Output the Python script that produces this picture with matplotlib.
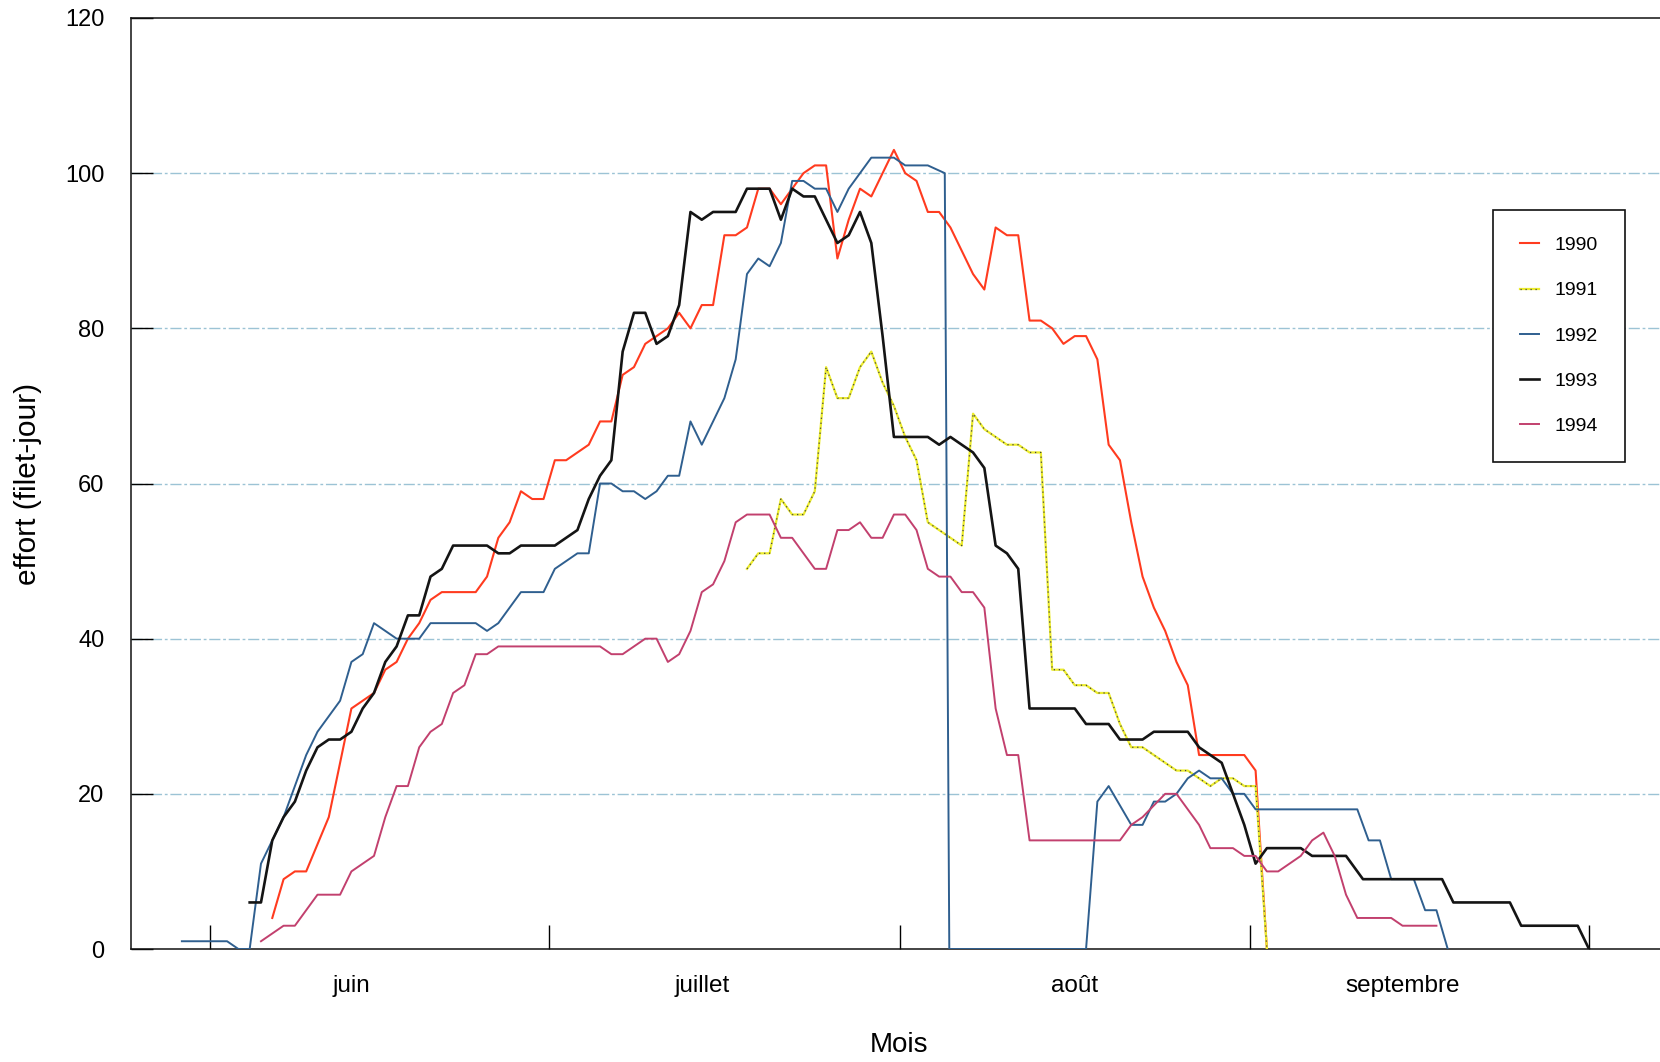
import matplotlib
matplotlib.use("Agg")
import matplotlib.pyplot as plt

plt.rcParams['font.family'] = ['Liberation Sans', 'DejaVu Sans']

# effort journalier (filet-jour) -- (jour depuis le 1er juin, valeur)
effort_1990 = [(6, 4), (7, 9), (8, 10), (9, 10), (11, 17), (13, 31), (14, 32), (15, 33), (16, 36),
               (17, 37), (18, 40), (19, 42), (20, 45), (21, 46), (24, 46), (25, 48), (26, 53),
               (27, 55), (28, 59), (29, 58), (30, 58), (31, 63), (32, 63), (33, 64), (34, 65),
               (35, 68), (36, 68), (37, 74), (38, 75), (39, 78), (40, 79), (41, 80), (42, 82),
               (43, 80), (44, 83), (45, 83), (46, 92), (47, 92), (48, 93), (49, 98), (50, 98),
               (51, 96), (52, 98), (53, 100), (54, 101), (55, 101), (56, 89), (57, 94), (58, 98),
               (59, 97), (60, 100), (61, 103), (62, 100), (63, 99), (64, 95), (65, 95), (66, 93),
               (67, 90), (68, 87), (69, 85), (70, 93), (71, 92), (72, 92), (73, 81), (74, 81),
               (75, 80), (76, 78), (77, 79), (78, 79), (79, 76), (80, 65), (81, 63), (82, 55),
               (83, 48), (84, 44), (85, 41), (86, 37), (87, 34), (88, 25), (92, 25), (93, 23),
               (94, 0)]

effort_1991 = [(48, 49), (49, 51), (50, 51), (51, 58), (52, 56), (53, 56), (54, 59), (55, 75),
               (56, 71), (57, 71), (58, 75), (59, 77), (60, 73), (61, 70), (62, 66), (63, 63),
               (64, 55), (65, 54), (66, 53), (67, 52), (68, 69), (69, 67), (70, 66), (71, 65),
               (72, 65), (73, 64), (74, 64), (75, 36), (76, 36), (77, 34), (78, 34), (79, 33),
               (80, 33), (81, 29), (82, 26), (83, 26), (84, 25), (85, 24), (86, 23), (87, 23),
               (88, 22), (89, 21), (90, 22), (91, 22), (92, 21), (93, 21), (94, 0)]

effort_1992 = [(-2, 1), (2, 1), (3, 0), (4, 0), (5, 11), (6, 14), (7, 17), (8, 21), (9, 25),
               (10, 28), (11, 30), (12, 32), (13, 37), (14, 38), (15, 42), (17, 40), (19, 40),
               (20, 42), (24, 42), (25, 41), (26, 42), (28, 46), (30, 46), (31, 49), (32, 50),
               (33, 51), (34, 51), (35, 60), (36, 60), (37, 59), (38, 59), (39, 58), (40, 59),
               (41, 61), (42, 61), (43, 68), (44, 65), (45, 68), (46, 71), (47, 76), (48, 87),
               (49, 89), (50, 88), (51, 91), (52, 99), (53, 99), (54, 98), (55, 98), (56, 95),
               (57, 98), (58, 100), (59, 102), (61, 102), (62, 101), (64, 101), (65.5, 100),
               (65.9, 0), (78, 0), (79, 19), (80, 21), (82, 16), (83, 16), (84, 19), (85, 19),
               (86, 20), (87, 22), (88, 23), (89, 22), (90, 22), (91, 20), (92, 20), (93, 18),
               (102, 18), (103, 14), (104, 14), (105, 9), (107, 9), (108, 5), (109, 5), (110, 0)]

effort_1993 = [(4, 6), (5, 6), (6, 14), (7, 17), (8, 19), (9, 23), (10, 26), (11, 27), (12, 27),
               (13, 28), (14, 31), (15, 33), (16, 37), (17, 39), (18, 43), (19, 43), (20, 48),
               (21, 49), (22, 52), (25, 52), (26, 51), (27, 51), (28, 52), (31, 52), (32, 53),
               (33, 54), (34, 58), (35, 61), (36, 63), (37, 77), (38, 82), (39, 82), (40, 78),
               (41, 79), (42, 83), (43, 95), (44, 94), (45, 95), (47, 95), (48, 98), (50, 98),
               (51, 94), (52, 98), (53, 97), (54, 97), (55, 94), (56, 91), (57, 92), (58, 95),
               (59, 91), (60, 79), (61, 66), (64, 66), (65, 65), (66, 66), (67, 65), (68, 64),
               (69, 62), (70, 52), (71, 51), (72, 49), (73, 31), (77, 31), (78, 29), (80, 29),
               (81, 27), (83, 27), (84, 28), (87, 28), (88, 26), (89, 25), (90, 24), (91, 20),
               (92, 16), (93, 11), (94, 13), (97, 13), (98, 12), (101, 12), (102.5, 9), (109.5, 9),
               (110.5, 6), (115.5, 6), (116.5, 3), (121.5, 3), (122.5, 0)]

effort_1994 = [(5, 1), (6, 2), (7, 3), (8, 3), (9, 5), (10, 7), (12, 7), (13, 10), (14, 11),
               (15, 12), (16, 17), (17, 21), (18, 21), (19, 26), (20, 28), (21, 29), (22, 33),
               (23, 34), (24, 38), (25, 38), (26, 39), (35, 39), (36, 38), (37, 38), (38, 39),
               (39, 40), (40, 40), (41, 37), (42, 38), (43, 41), (44, 46), (45, 47), (46, 50),
               (47, 55), (48, 56), (50, 56), (51, 53), (52, 53), (53, 51), (54, 49), (55, 49),
               (56, 54), (57, 54), (58, 55), (59, 53), (60, 53), (61, 56), (62, 56), (63, 54),
               (64, 49), (65, 48), (66, 48), (67, 46), (68, 46), (69, 44), (70, 31), (71, 25),
               (72, 25), (73, 14), (81, 14), (82, 16), (83, 17), (84, 18.5), (85, 20), (86, 20),
               (87, 18), (88, 16), (89, 13), (91, 13), (92, 12), (93, 12), (94, 10), (95, 10),
               (96, 11), (97, 12), (98, 14), (99, 15), (100, 12), (101, 7), (102, 4), (105, 4),
               (106, 3), (109, 3)]

month_bounds = [0.5, 30.5, 61.5, 92.5, 122.5]
month_pos = [13, 44, 77, 106]
month_names = ['juin', 'juillet', 'août', 'septembre']
y_ticks = [0, 20, 40, 60, 80, 100, 120]


def xy(pairs):
    return [p[0] for p in pairs], [p[1] for p in pairs]


fig = plt.figure(figsize=(16.6, 10.62), dpi=100)
ax = fig.add_axes([131 / 1660, 1 - 949 / 1062, 1536 / 1660, 931 / 1062])

# grille horizontale pointillee
for y in y_ticks[1:-1]:
    ax.axhline(y, color='#9cc3d5', lw=1.0, ls=(0, (8, 2, 2, 2)), zorder=1)

x, y = xy(effort_1990)
l90, = ax.plot(x, y, color='#ff3b1f', lw=1.5, zorder=3)
x, y = xy(effort_1991)
l91a, = ax.plot(x, y, color='#ecec2c', lw=1.6, zorder=3)
l91b, = ax.plot(x, y, color='#444444', lw=0.9, ls=(0, (1, 3)), zorder=3)
x, y = xy(effort_1992)
l92, = ax.plot(x, y, color='#2f5f8f', lw=1.4, zorder=3)
x, y = xy(effort_1993)
l93, = ax.plot(x, y, color='#141414', lw=1.9, zorder=3)
x, y = xy(effort_1994)
l94, = ax.plot(x, y, color='#c2406e', lw=1.4, zorder=3)

ax.set_xlim(-6.5, 129.4)
ax.set_ylim(0, 120)

ax.set_yticks(y_ticks)
ax.tick_params(axis='y', direction='in', length=16, width=1, labelsize=17, pad=19)
ax.set_xticks(month_bounds)
ax.set_xticklabels([])
ax.set_xticks(month_pos, minor=True)
ax.set_xticklabels(month_names, minor=True)
ax.tick_params(axis='x', which='major', direction='in', length=17, width=1)
ax.tick_params(axis='x', which='minor', length=0, labelsize=17.5, pad=18.5)

for s in ax.spines.values():
    s.set_linewidth(1.1)
    s.set_color('#111111')

ax.set_xlabel('Mois', fontsize=20)
ax.xaxis.set_label_coords(0.5, -0.0895)
ax.set_ylabel('effort (filet-jour)', fontsize=21.5)
ax.yaxis.set_label_coords(-0.058, 0.5)

leg = fig.legend([l90, (l91a, l91b), l92, l93, l94], ['1990', '1991', '1992', '1993', '1994'],
                 loc='upper left', bbox_to_anchor=(1493 / 1660, 1 - 210 / 1062),
                 bbox_transform=fig.transFigure, borderaxespad=0, fontsize=14,
                 handlelength=0.98, handletextpad=0.83, labelspacing=1.42, borderpad=1.37,
                 fancybox=False, framealpha=1, edgecolor='#111111')
leg.get_frame().set_linewidth(1.2)

fig.savefig('out.png', dpi=100)
